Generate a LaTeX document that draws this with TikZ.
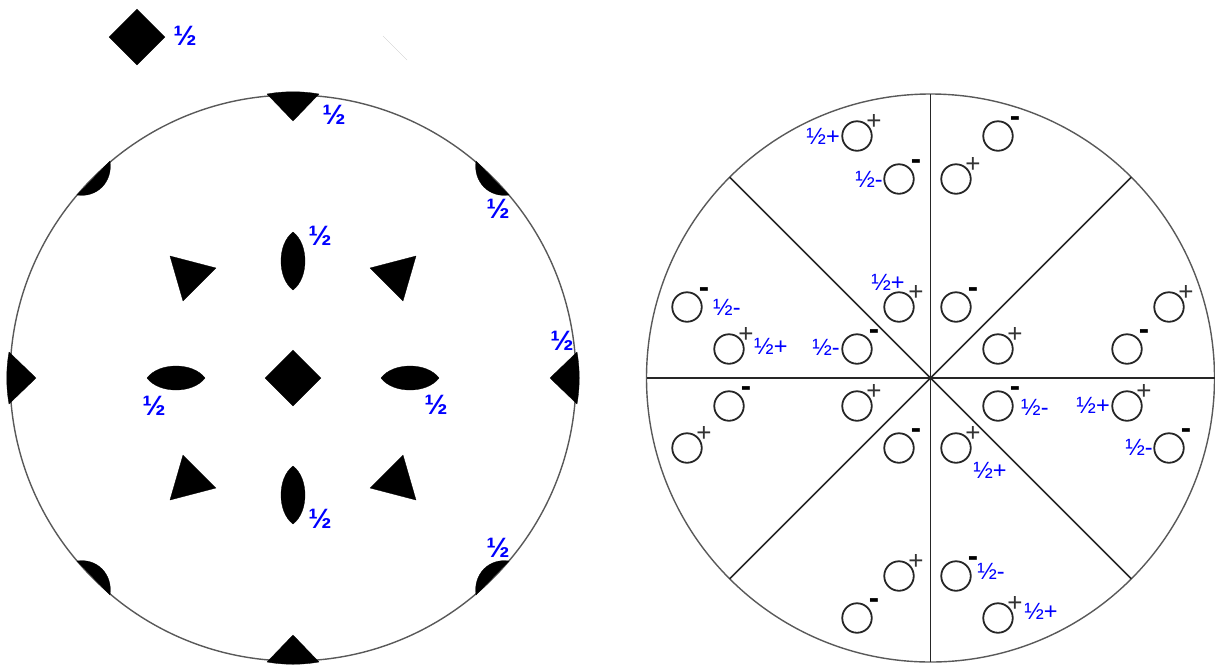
\documentclass[tikz,border=0pt]{standalone}
\usepackage{fontspec}
\setmainfont{Liberation Sans}
\usetikzlibrary{calc}
\begin{document}
\begin{tikzpicture}[x=1pt,y=-1pt,
  rim/.style={draw=black!65,line width=1.4pt},
  spoke/.style={draw=black!85,line width=1.5pt},
  ring/.style={circle,draw=black!85,line width=1.8pt,fill=white,inner sep=0pt,minimum size=29.5pt},
  solid shape/.style={fill=black,draw=black,line width=.3pt,line join=round},
  plussign/.style={inner sep=0pt,text=black!80,font=\fontsize{26}{26}\selectfont,node contents=+},
  minussign/.style={inner sep=0pt,font=\fontsize{31}{31}\selectfont\bfseries,node contents=-},
  heavyhalf/.style={inner sep=0pt,text=blue,font=\fontsize{28}{28}\selectfont\bfseries},
  lighthalf/.style={inner sep=0pt,text=blue,font=\fontsize{23.5}{24}\selectfont}]
\useasboundingbox (0,0) rectangle (1215,665);
% left disc
\coordinate (lc) at (293,378);
\draw[rim] (lc) circle (283);
\draw[draw=black!25,line width=.3pt] (383,36) -- (407,60);
% diamonds
\fill[solid shape] (109,37) -- (137,9) -- (165,37) -- (137,65) -- cycle;
\fill[solid shape] (265,378) -- (293,350) -- (321,378) -- (293,406) -- cycle;
% lenses, triangles and half lenses in the four quadrants
\foreach \sx/\sy in {1/1,-1/1,1/-1,-1/-1}{
  \begin{scope}[shift={(lc)},xscale=\sx,yscale=\sy]
    \fill[solid shape] (-123,-122) -- (-77,-110) -- (-110,-77) -- cycle;
    \fill[solid shape] (-183,-217) .. controls (-180,-196) and (-196,-180) .. (-216,-183) -- cycle;
  \end{scope}
}
\foreach \a in {0,90,180,270}{
  \begin{scope}[shift={(lc)},rotate=\a]
    \fill[solid shape] (88,0) .. controls (100,-16) and (134,-16) .. (146,0) .. controls (134,16) and (100,16) .. (88,0) -- cycle;
    \fill[solid shape] (257,0) -- (284,-26) .. controls (287,-9) and (287,9) .. (284,26) -- cycle;
  \end{scope}
}
\node[heavyhalf] (k1) at (185,36) {½};
\node[heavyhalf] (k2) at (334,115) {½};
\node[heavyhalf] (k3) at (498,209) {½};
\node[heavyhalf] (k4) at (320,236) {½};
\node[heavyhalf] (k5) at (562,341) {½};
\node[heavyhalf] (k6) at (154,406) {½};
\node[heavyhalf] (k7) at (436,405) {½};
\node[heavyhalf] (k8) at (320,519) {½};
\node[heavyhalf] (k9) at (498,548) {½};
% right disc
\coordinate (rc) at (930.5,378);
\draw[rim] (rc) circle (284);
\foreach \a in {0,45,...,315}{
  \draw[spoke] (rc) -- ($(rc)+(\a:284)$);
}
\foreach \name/\x/\y/\sign in {
  a/857/136/plussign,b/899/179/minussign,c/998/136/minussign,d/956/179/plussign,
  e/899/307/plussign,f/956/307/minussign,g/687/307/minussign,h/729/349/plussign,
  i/857/349/minussign,j/998/349/plussign,k/1169/307/plussign,l/1127/349/minussign,
  m/729/406/minussign,n/687/448/plussign,o/857/406/plussign,p/899/448/minussign,
  q/956/448/plussign,r/998/406/minussign,s/1127/406/plussign,t/1169/448/minussign,
  u/899/576/plussign,v/857/618/minussign,w/956/576/minussign,x/998/618/plussign}{
  \node[ring] (\name) at (\x,\y) {};
  \node[name=s\name,at={($(\name)+(17,-14)$)},\sign];
}
\node[lighthalf,anchor=east] (la) at ($(a)+(-17,0)$) {½+};
\node[lighthalf,anchor=east] (lb) at ($(b)+(-16,0)$) {½-};
\node[lighthalf] (le) at (888,282) {½+};
\node[lighthalf,anchor=west] (lg) at ($(g)+(26,0)$) {½-};
\node[lighthalf,anchor=west] (lh) at ($(h)+(25,-3)$) {½+};
\node[lighthalf,anchor=east] (li) at ($(i)+(-17,-2)$) {½-};
\node[lighthalf,anchor=west] (lr) at ($(r)+(23,1)$) {½-};
\node[lighthalf,anchor=east] (ls) at ($(s)+(-17,-1)$) {½+};
\node[lighthalf,anchor=east] (lt) at ($(t)+(-16,-1)$) {½-};
\node[lighthalf] (lq) at (990,470) {½+};
\node[lighthalf] (lw) at (991,571) {½-};
\node[lighthalf] (lx) at (1041,611) {½+};
\end{tikzpicture}
\end{document}
